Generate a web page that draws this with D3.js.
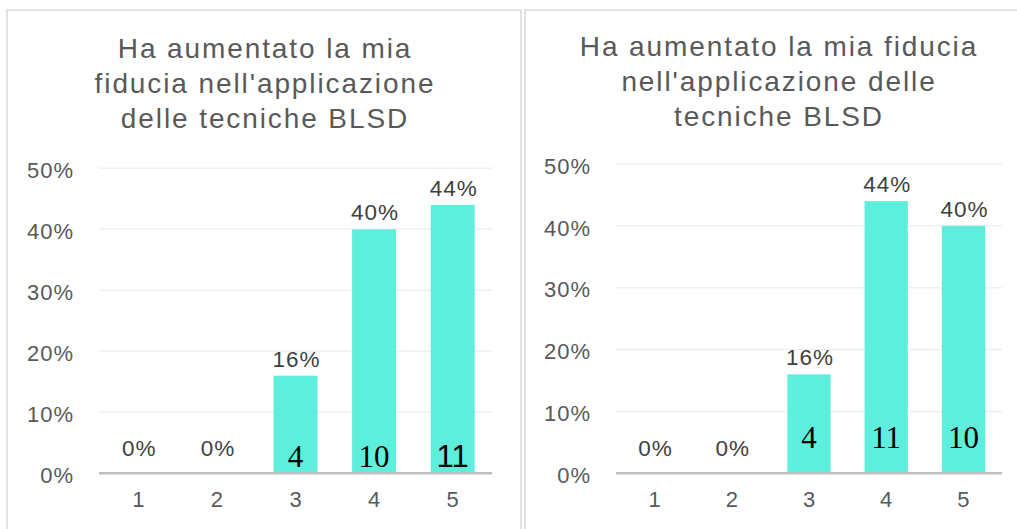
<!DOCTYPE html>
<html>
<head>
<meta charset="utf-8">
<script src="https://cdn.jsdelivr.net/npm/d3@7"></script>
<style>
  html, body { margin: 0; padding: 0; background: #fff; }
  svg { display: block; }
</style>
</head>
<body>
<svg id="chart" width="1017" height="529"></svg>
<script>
// ---- data ----
const categories = ["1", "2", "3", "4", "5"];
const leftTitle = ["Ha aumentato la mia", "fiducia nell'applicazione", "delle tecniche BLSD"];
const rightTitle = ["Ha aumentato la mia fiducia", "nell'applicazione delle", "tecniche BLSD"];
const leftPercent = [0, 0, 16, 40, 44];
const rightPercent = [0, 0, 16, 44, 40];
const leftCounts = ["", "", "4", "10", "11"];
const rightCounts = ["", "", "4", "11", "10"];
const yTicks = [0, 10, 20, 30, 40, 50];

// ---- layout / style ----
const panels = [
  { title: leftTitle, values: leftPercent, counts: leftCounts,
    frame: [7, 10, 514, 540], plot: { x0: 99, x1: 492, y0: 473.3, y1: 168.3 },
    titleX: 264, titleY: 58.3, countOffset: 6,
    countFonts: ["Liberation Serif", "Liberation Serif", "Liberation Serif", "Liberation Serif", "Liberation Sans"] },
  { title: rightTitle, values: rightPercent, counts: rightCounts,
    frame: [525, 10, 520, 540], plot: { x0: 616, x1: 1002, y0: 473.3, y1: 164 },
    titleX: 778, titleY: 56, countOffset: 25,
    countFonts: ["Liberation Serif", "Liberation Serif", "Liberation Serif", "Liberation Serif", "Liberation Serif"] }
];

const svg = d3.select("#chart");
const barColor = "#5eeedc";
const textGray = "#595959";

panels.forEach(p => {
  const g = svg.append("g");
  g.append("rect")
    .attr("x", p.frame[0]).attr("y", p.frame[1])
    .attr("width", p.frame[2]).attr("height", p.frame[3])
    .attr("fill", "#fff").attr("stroke", "#d9d9d9").attr("stroke-width", 1.5);

  // title
  g.append("g").selectAll("text").data(p.title).join("text")
    .attr("x", p.titleX + 1)
    .attr("y", (d, i) => p.titleY + i * 35)
    .attr("text-anchor", "middle")
    .attr("font-family", "Liberation Sans, Arial, sans-serif")
    .attr("font-size", 28)
    .attr("letter-spacing", 1.9)
    .attr("fill", textGray)
    .text(d => d);

  const x = d3.scaleBand().domain(categories).range([p.plot.x0, p.plot.x1])
    .paddingInner(0.44).paddingOuter(0.22);
  const y = d3.scaleLinear().domain([0, 50]).range([p.plot.y0, p.plot.y1]);

  // gridlines
  g.append("g").selectAll("line").data(yTicks.filter(t => t > 0)).join("line")
    .attr("x1", p.plot.x0).attr("x2", p.plot.x1)
    .attr("y1", d => y(d)).attr("y2", d => y(d))
    .attr("stroke", "#efefef").attr("stroke-width", 1.5);

  // y axis labels
  const yAxis = d3.axisLeft(y).tickValues(yTicks).tickSize(0).tickPadding(25)
    .tickFormat(d => d + "%");
  const ya = g.append("g").attr("transform", `translate(${p.plot.x0},0)`).call(yAxis);
  ya.select(".domain").remove();
  ya.selectAll("text")
    .attr("font-family", "Liberation Sans, Arial, sans-serif")
    .attr("font-size", 22).attr("letter-spacing", 1)
    .attr("fill", textGray).attr("dy", "0.42em");

  // bars
  g.append("g").selectAll("rect").data(p.values).join("rect")
    .attr("x", (d, i) => x(categories[i]))
    .attr("width", x.bandwidth())
    .attr("y", d => y(d))
    .attr("height", d => y(0) - y(d))
    .attr("fill", barColor);

  // baseline / x axis
  const xAxis = d3.axisBottom(x).tickSize(0).tickPadding(18);
  const xa = g.append("g").attr("transform", `translate(0,${y(0)})`).call(xAxis);
  xa.select(".domain").attr("stroke", "#bfbfbf").attr("stroke-width", 2.5)
    .attr("d", `M${p.plot.x0},0H${p.plot.x1}`);
  xa.selectAll("text")
    .attr("font-family", "Liberation Sans, Arial, sans-serif")
    .attr("font-size", 22).attr("fill", textGray).attr("dy", "0.71em");

  // percent labels
  g.append("g").selectAll("text").data(p.values).join("text")
    .attr("x", (d, i) => x(categories[i]) + x.bandwidth() / 2 + 1)
    .attr("y", d => Math.min(y(d), y(0) - 8) - 9)
    .attr("text-anchor", "middle")
    .attr("font-family", "Liberation Sans, Arial, sans-serif")
    .attr("font-size", 22.5).attr("letter-spacing", 1)
    .attr("fill", "#404040")
    .text(d => d + "%");

  // count labels
  g.append("g").selectAll("text").data(p.counts).join("text")
    .attr("x", (d, i) => x(categories[i]) + x.bandwidth() / 2)
    .attr("y", y(0) - p.countOffset)
    .attr("text-anchor", "middle")
    .attr("font-family", (d, i) => p.countFonts[i])
    .attr("font-size", 31)
    .attr("fill", "#000")
    .text(d => d);
});
</script>
</body>
</html>
